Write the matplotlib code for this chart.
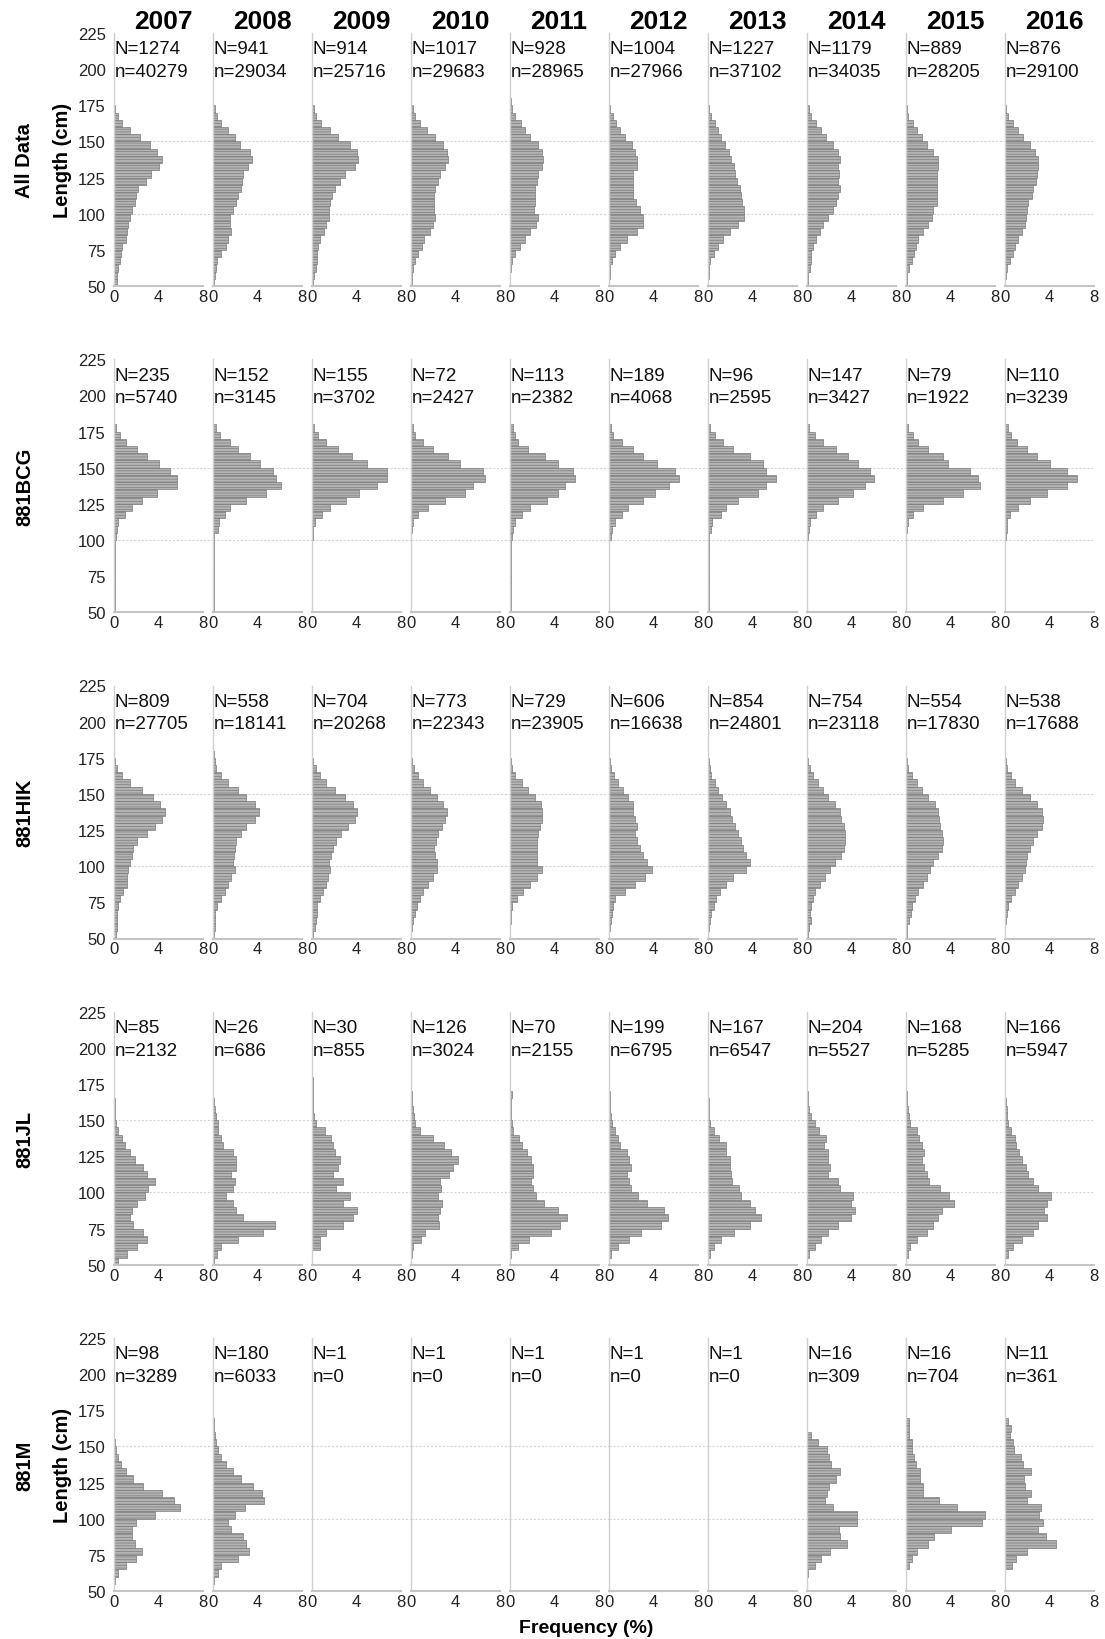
import matplotlib
matplotlib.use('Agg')
import matplotlib.pyplot as plt
import numpy as np

plt.rcParams['font.family'] = ['Liberation Sans', 'DejaVu Sans']
plt.rcParams['hatch.linewidth'] = 0.5

# 5 cm length classes, 50-180 cm
bin_edges = np.arange(50, 181, 5)
years = [2007, 2008, 2009, 2010, 2011, 2012, 2013, 2014, 2015, 2016]
groups = ['All Data', '881BCG', '881HIK', '881JL', '881M']

# N (fish) and n (lengths) per group and year
N_all = [1274, 941, 914, 1017, 928, 1004, 1227, 1179, 889, 876]
n_all = [40279, 29034, 25716, 29683, 28965, 27966, 37102, 34035, 28205, 29100]
N_bcg = [235, 152, 155, 72, 113, 189, 96, 147, 79, 110]
n_bcg = [5740, 3145, 3702, 2427, 2382, 4068, 2595, 3427, 1922, 3239]
N_hik = [809, 558, 704, 773, 729, 606, 854, 754, 554, 538]
n_hik = [27705, 18141, 20268, 22343, 23905, 16638, 24801, 23118, 17830, 17688]
N_jl = [85, 26, 30, 126, 70, 199, 167, 204, 168, 166]
n_jl = [2132, 686, 855, 3024, 2155, 6795, 6547, 5527, 5285, 5947]
N_m = [98, 180, 1, 1, 1, 1, 1, 16, 16, 11]
n_m = [3289, 6033, 0, 0, 0, 0, 0, 309, 704, 361]

# frequency (%) per 5 cm class (bottom class first)
freq_all = [
    [0.25, 0.3, 0.4, 0.5, 0.6, 0.7, 1.05, 1.15, 1.3, 1.4, 1.6, 1.9, 2.0, 2.2, 2.9, 3.3, 4.0, 4.3, 3.85, 3.2, 2.3, 1.45, 0.75, 0.35, 0.12, 0.03],
    [0.1, 0.15, 0.25, 0.35, 0.75, 1.15, 1.35, 1.65, 1.55, 1.5, 1.8, 2.1, 2.25, 2.55, 2.65, 2.7, 3.15, 3.55, 3.3, 2.4, 1.95, 1.35, 0.75, 0.35, 0.15, 0.03],
    [0.12, 0.2, 0.36, 0.42, 0.42, 0.5, 0.7, 1.1, 1.3, 1.5, 1.55, 1.6, 1.8, 2.05, 2.5, 3.0, 3.85, 4.15, 4.0, 3.4, 2.35, 1.6, 0.85, 0.4, 0.18, 0.03],
    [0.05, 0.08, 0.15, 0.35, 0.65, 0.95, 1.15, 1.7, 2.0, 2.15, 2.1, 2.1, 2.05, 2.15, 2.4, 2.6, 3.05, 3.3, 3.2, 2.9, 2.15, 1.4, 0.8, 0.35, 0.15, 0.02],
    [0.02, 0.03, 0.05, 0.15, 0.45, 0.9, 1.35, 1.8, 2.35, 2.55, 2.15, 2.25, 2.25, 2.25, 2.4, 2.55, 2.85, 2.95, 2.85, 2.55, 1.8, 1.35, 0.95, 0.45, 0.15, 0.05],
    [0.03, 0.05, 0.1, 0.25, 0.55, 1.0, 1.6, 2.5, 3.1, 3.1, 2.8, 2.45, 2.2, 2.2, 2.2, 2.2, 2.5, 2.5, 2.35, 2.05, 1.45, 0.95, 0.65, 0.35, 0.1, 0.02],
    [0.03, 0.05, 0.1, 0.2, 0.5, 0.9, 1.35, 1.95, 2.7, 3.25, 3.2, 3.1, 3.0, 2.85, 2.6, 2.4, 2.3, 2.1, 1.9, 1.5, 1.2, 0.9, 0.6, 0.3, 0.1, 0.02],
    [0.06, 0.12, 0.3, 0.35, 0.35, 0.5, 0.8, 1.15, 1.45, 1.9, 2.35, 2.65, 2.8, 3.0, 2.8, 2.9, 2.8, 2.95, 2.8, 2.3, 1.75, 1.3, 0.85, 0.4, 0.15, 0.03],
    [0.06, 0.12, 0.3, 0.5, 0.7, 0.9, 1.1, 1.55, 2.0, 2.3, 2.45, 2.75, 2.8, 2.75, 2.75, 2.75, 2.9, 2.9, 2.45, 1.85, 1.4, 0.95, 0.6, 0.2, 0.08, 0.02],
    [0.03, 0.06, 0.15, 0.45, 0.7, 0.9, 1.2, 1.5, 1.8, 1.9, 1.95, 2.1, 2.4, 2.55, 2.8, 2.85, 3.0, 3.0, 2.7, 2.25, 1.65, 1.2, 0.75, 0.3, 0.1, 0.02],
]
freq_bcg = [
    [0.1, 0.1, 0.1, 0.1, 0.1, 0.1, 0.1, 0.1, 0.1, 0.1, 0.15, 0.25, 0.4, 1.0, 1.6, 2.5, 3.85, 5.7, 5.7, 5.05, 4.0, 2.95, 2.05, 1.1, 0.5, 0.2],
    [0.05, 0.05, 0.05, 0.05, 0.05, 0.05, 0.05, 0.05, 0.05, 0.05, 0.1, 0.45, 0.55, 1.05, 1.5, 3.0, 4.8, 6.15, 5.7, 5.4, 4.2, 3.3, 2.25, 1.5, 0.6, 0.25],
    [0.03, 0.03, 0.03, 0.03, 0.03, 0.03, 0.03, 0.03, 0.03, 0.03, 0.05, 0.1, 0.3, 0.9, 1.6, 3.1, 4.2, 5.8, 6.7, 6.7, 4.9, 3.6, 2.35, 1.3, 0.55, 0.2],
    [0.02, 0.02, 0.02, 0.02, 0.02, 0.02, 0.02, 0.02, 0.02, 0.02, 0.03, 0.06, 0.2, 0.65, 1.55, 3.05, 4.85, 5.6, 6.65, 6.5, 4.4, 3.35, 2.0, 1.1, 0.35, 0.15],
    [0.05, 0.05, 0.05, 0.05, 0.05, 0.05, 0.05, 0.05, 0.05, 0.05, 0.15, 0.3, 0.45, 1.05, 1.8, 3.3, 4.35, 4.95, 5.85, 5.7, 4.35, 3.15, 1.65, 0.75, 0.45, 0.3],
    [0.04, 0.04, 0.04, 0.04, 0.04, 0.04, 0.04, 0.04, 0.04, 0.04, 0.15, 0.25, 0.55, 1.15, 1.75, 3.1, 4.15, 5.35, 6.25, 5.95, 4.3, 3.1, 2.2, 1.15, 0.4, 0.15],
    [0.06, 0.06, 0.06, 0.06, 0.06, 0.06, 0.06, 0.06, 0.06, 0.06, 0.1, 0.3, 0.4, 1.2, 1.65, 2.7, 4.5, 5.25, 6.15, 5.25, 4.95, 3.75, 2.25, 1.35, 0.6, 0.2],
    [0.04, 0.04, 0.04, 0.04, 0.04, 0.04, 0.04, 0.04, 0.04, 0.04, 0.05, 0.15, 0.3, 0.85, 1.45, 2.8, 4.15, 5.2, 6.0, 5.7, 4.6, 3.7, 2.65, 1.45, 0.7, 0.2],
    [0.03, 0.03, 0.03, 0.03, 0.03, 0.03, 0.03, 0.03, 0.03, 0.03, 0.03, 0.12, 0.2, 0.65, 1.55, 3.35, 5.15, 6.65, 6.5, 5.75, 3.8, 3.35, 2.0, 1.1, 0.6, 0.2],
    [0.02, 0.02, 0.02, 0.02, 0.02, 0.02, 0.02, 0.02, 0.02, 0.02, 0.1, 0.15, 0.2, 0.45, 1.2, 2.25, 3.75, 5.55, 6.45, 5.55, 4.05, 2.85, 1.95, 1.05, 0.5, 0.3],
]
freq_hik = [
    [0.15, 0.25, 0.3, 0.3, 0.4, 0.55, 0.8, 1.15, 1.2, 1.3, 1.4, 1.6, 1.75, 2.05, 2.95, 3.7, 4.3, 4.6, 4.15, 3.55, 2.5, 1.45, 0.7, 0.3, 0.1, 0.03],
    [0.1, 0.15, 0.2, 0.2, 0.35, 0.75, 1.05, 1.35, 1.65, 1.95, 1.8, 1.85, 1.95, 2.1, 2.55, 3.0, 3.75, 4.15, 3.75, 3.0, 2.25, 1.35, 0.75, 0.3, 0.15, 0.05],
    [0.06, 0.27, 0.36, 0.42, 0.48, 0.7, 0.95, 1.3, 1.45, 1.6, 1.55, 1.75, 1.9, 2.2, 2.65, 3.25, 3.85, 4.0, 3.7, 2.95, 2.05, 1.3, 0.7, 0.35, 0.12, 0.03],
    [0.03, 0.05, 0.15, 0.35, 0.55, 0.8, 1.1, 1.55, 2.0, 2.3, 2.35, 2.15, 2.1, 2.25, 2.45, 2.75, 3.05, 3.2, 2.9, 2.3, 1.7, 1.1, 0.65, 0.25, 0.1, 0.03],
    [0.02, 0.03, 0.05, 0.06, 0.15, 0.6, 1.2, 1.8, 2.4, 2.85, 2.4, 2.4, 2.45, 2.4, 2.55, 2.7, 2.85, 2.85, 2.75, 2.25, 1.65, 1.05, 0.45, 0.15, 0.05, 0.02],
    [0.03, 0.1, 0.15, 0.25, 0.35, 0.55, 1.45, 2.35, 3.25, 3.85, 3.4, 3.1, 2.75, 2.5, 2.35, 2.5, 2.35, 2.2, 2.15, 1.75, 1.3, 0.85, 0.45, 0.2, 0.06, 0.02],
    [0.03, 0.1, 0.15, 0.3, 0.5, 0.75, 1.05, 1.6, 2.25, 3.45, 3.75, 3.45, 3.15, 3.0, 2.7, 2.4, 2.2, 1.95, 1.65, 1.3, 0.9, 0.6, 0.3, 0.15, 0.06, 0.02],
    [0.05, 0.2, 0.35, 0.3, 0.35, 0.5, 0.7, 1.15, 1.6, 2.05, 2.5, 3.1, 3.35, 3.4, 3.4, 3.3, 3.1, 2.95, 2.5, 1.9, 1.45, 1.0, 0.55, 0.25, 0.1, 0.03],
    [0.05, 0.12, 0.3, 0.42, 0.5, 0.8, 1.1, 1.5, 1.9, 2.15, 2.45, 2.9, 3.2, 3.35, 3.2, 3.1, 3.0, 2.9, 2.6, 2.0, 1.4, 0.95, 0.5, 0.2, 0.05, 0.02],
    [0.02, 0.04, 0.1, 0.2, 0.3, 0.5, 0.9, 1.2, 1.5, 1.8, 1.9, 2.0, 2.25, 2.55, 2.85, 3.3, 3.45, 3.3, 2.85, 2.25, 1.5, 0.9, 0.5, 0.2, 0.1, 0.03],
]
freq_jl = [
    [0.4, 1.15, 2.05, 2.95, 2.65, 1.75, 1.45, 1.6, 2.05, 2.8, 3.1, 3.7, 2.95, 2.65, 1.9, 1.4, 1.0, 0.7, 0.4, 0.2, 0.1, 0.05, 0.05, 0.03, 0.0, 0.03],
    [0.05, 0.35, 0.75, 2.25, 4.5, 5.55, 2.7, 2.1, 1.8, 1.2, 1.8, 1.95, 1.65, 2.1, 2.1, 1.8, 0.9, 0.75, 0.45, 0.45, 0.25, 0.15, 0.1, 0.03, 0.0, 0.0],
    [0.0, 0.0, 0.7, 0.7, 1.3, 2.8, 3.7, 4.0, 2.8, 3.4, 2.2, 2.8, 1.9, 2.35, 2.5, 2.05, 1.9, 1.75, 1.15, 0.4, 0.15, 0.1, 0.05, 0.05, 0.05, 0.05],
    [0.02, 0.1, 0.15, 0.9, 1.3, 2.5, 2.4, 2.6, 2.8, 2.4, 2.7, 2.6, 3.4, 3.8, 4.2, 3.6, 3.0, 2.0, 0.8, 0.35, 0.25, 0.15, 0.1, 0.05, 0.03, 0.0],
    [0.02, 0.1, 0.7, 1.7, 3.7, 4.5, 5.15, 4.3, 3.1, 2.3, 2.1, 1.9, 2.1, 2.1, 1.9, 1.5, 1.1, 0.8, 0.3, 0.2, 0.1, 0.08, 0.05, 0.2, 0.0, 0.0],
    [0.02, 0.2, 0.8, 1.8, 2.85, 4.7, 5.3, 4.9, 3.45, 2.65, 2.0, 1.8, 1.65, 2.0, 1.8, 1.65, 1.0, 0.8, 0.5, 0.3, 0.2, 0.12, 0.08, 0.05, 0.02, 0.0],
    [0.02, 0.15, 0.55, 1.15, 2.35, 3.8, 4.8, 4.2, 3.8, 3.0, 2.75, 2.15, 2.05, 1.95, 1.95, 1.65, 1.65, 0.95, 0.55, 0.2, 0.12, 0.08, 0.05, 0.03, 0.0, 0.0],
    [0.03, 0.2, 0.7, 1.3, 1.9, 2.75, 3.95, 4.35, 3.95, 4.15, 2.95, 2.75, 1.9, 2.1, 1.9, 1.85, 1.5, 1.7, 1.1, 0.7, 0.35, 0.2, 0.1, 0.05, 0.02, 0.0],
    [0.03, 0.15, 0.4, 1.0, 1.85, 2.45, 2.85, 3.25, 4.3, 3.85, 3.05, 2.05, 1.85, 1.65, 1.45, 1.65, 1.45, 1.2, 1.0, 0.4, 0.3, 0.2, 0.1, 0.05, 0.02, 0.0],
    [0.03, 0.3, 0.7, 1.5, 2.5, 2.95, 3.75, 3.55, 3.75, 4.15, 2.95, 2.55, 2.1, 1.9, 1.5, 1.3, 1.0, 0.9, 0.5, 0.3, 0.15, 0.2, 0.05, 0.02, 0.0, 0.0],
]
freq_m = [
    [0.0, 0.06, 0.35, 1.1, 2.0, 2.5, 1.9, 1.65, 1.6, 2.0, 3.7, 5.95, 5.35, 4.3, 2.65, 1.75, 1.05, 0.65, 0.35, 0.15, 0.08, 0.03, 0.0, 0.0, 0.0, 0.0],
    [0.0, 0.06, 0.45, 0.75, 2.25, 3.2, 3.0, 2.7, 1.65, 1.35, 1.95, 2.9, 4.55, 4.4, 3.6, 2.55, 1.8, 1.2, 0.75, 0.45, 0.3, 0.15, 0.08, 0.05, 0.03, 0.02],
    [], [], [], [], [],
    [0.0, 0.0, 0.1, 0.7, 1.3, 2.1, 3.6, 3.0, 2.9, 4.5, 4.5, 2.3, 1.6, 1.8, 2.0, 2.6, 3.0, 2.2, 2.0, 1.8, 1.0, 0.4, 0.0, 0.0, 0.0, 0.0],
    [0.0, 0.0, 0.0, 0.3, 0.5, 1.0, 2.0, 2.5, 4.0, 6.8, 7.1, 4.6, 3.0, 1.5, 1.5, 1.3, 1.3, 0.9, 0.7, 0.5, 0.5, 0.3, 0.3, 0.25, 0.0, 0.0],
    [0.0, 0.0, 0.0, 0.6, 1.0, 2.0, 4.6, 3.7, 3.0, 3.4, 3.1, 3.2, 2.0, 2.3, 1.8, 1.7, 2.3, 1.6, 1.4, 0.8, 0.75, 0.45, 0.5, 0.3, 0.0, 0.0],
]

freqs = [freq_all, freq_bcg, freq_hik, freq_jl, freq_m]
big_N = [N_all, N_bcg, N_hik, N_jl, N_m]
small_n = [n_all, n_bcg, n_hik, n_jl, n_m]

W, H = 1105, 1640
fig = plt.figure(figsize=(W / 100, H / 100), dpi=100)

col_step = 99
ax_w = 89
row_step = 326.25
ax_h = 253
centers = bin_edges[:-1] + 2.5

for i, g in enumerate(groups):
    bottom_px = 287 + row_step * i
    for j, yr in enumerate(years):
        left_px = 114 + col_step * j
        ax = fig.add_axes([left_px / W, 1 - bottom_px / H, ax_w / W, ax_h / H])
        vals = freqs[i][j]
        if len(vals) > 0:
            ax.barh(centers, vals, height=5, left=0, color='#b4b4b4',
                    edgecolor='#7c7c7c', linewidth=0.5, hatch='------', zorder=2)
        ax.set_xlim(0, 8)
        ax.set_ylim(50, 225)
        ext = col_step / ax_w if j < len(years) - 1 else 1
        for gy in (100, 150):
            ax.axhline(gy, xmin=0, xmax=ext, color='#d4d4d4', lw=0.8,
                       ls=(0, (2, 1.5)), clip_on=False, zorder=0)
        for s in ('top', 'right'):
            ax.spines[s].set_visible(False)
        ax.spines['left'].set_color('#d0d0d0')
        ax.spines['left'].set_linewidth(1.0)
        ax.spines['bottom'].set_color('#c4c4c4')
        ax.spines['bottom'].set_linewidth(1.5)
        ax.set_xticks([0, 4, 8])
        ax.set_xticklabels(['0', '4', '8'])
        ax.set_yticks(np.arange(50, 226, 25))
        ax.tick_params(axis='both', length=0, labelsize=12, colors='#222222')
        ax.tick_params(axis='x', pad=2)
        ax.tick_params(axis='y', pad=6)
        if j > 0:
            ax.set_yticklabels([])
        ax.text(0.08, 214, 'N=%d' % big_N[i][j], fontsize=13.5, va='center',
                ha='left', color='#111111', clip_on=False)
        ax.text(0.08, 198.5, 'n=%d' % small_n[i][j], fontsize=13.5, va='center',
                ha='left', color='#111111', clip_on=False)
        if i == 0:
            ax.text(4.4, 233, str(yr), fontsize=19, fontweight='bold',
                    ha='center', va='center', clip_on=False)

    y_mid = 1 - (bottom_px - ax_h / 2) / H
    fig.text(25 / W, y_mid, g, rotation=90, fontsize=14.5, fontweight='bold',
             ha='center', va='center')
    if i in (0, 4):
        fig.text(62 / W, y_mid, 'Length (cm)', rotation=90, fontsize=14.5,
                 fontweight='bold', ha='center', va='center')

fig.text(586 / W, 1 - 1629 / H, 'Frequency (%)', fontsize=14, fontweight='bold',
         ha='center', va='center')

fig.savefig('out.png', dpi=100)
